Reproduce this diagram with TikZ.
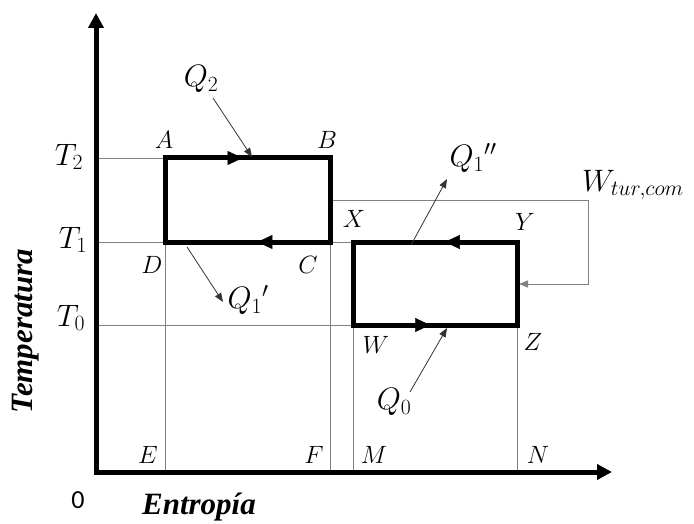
\RequirePackage{fix-cm}
\documentclass[tikz,border=0pt]{standalone}
\usepackage{fontspec}
\setmainfont{Liberation Serif}
\newfontfamily\zerofont{Carlito}
\usetikzlibrary{arrows.meta, decorations.markings}
\definecolor{guidegray}{HTML}{808080}

\begin{document}
\begin{tikzpicture}[x=1pt, y=-1pt,
    axis/.style={line width=5pt, line join=miter,
      {Triangle[length=15pt, width=15pt]}-{Triangle[length=15pt, width=15pt]}},
    cycleline/.style={line width=5pt, line join=miter},
    guide/.style={draw=guidegray, line width=0.9pt},
    heatarrow/.style={draw=black!80, line width=0.8pt, -{Triangle[length=9pt, width=7pt]}},
    flowmark/.style={postaction=decorate, decoration={markings,
      mark=at position #1 with {\arrow{Triangle[length=15pt, width=14pt]}}}},
    pt/.style={font=\fontsize{25}{29}\selectfont, inner sep=0pt},
    qlabel/.style={font=\fontsize{31}{35}\selectfont, inner sep=0pt},
    axlabel/.style={font=\fontsize{31}{35}\selectfont\bfseries\itshape, inner sep=0pt}]
  \useasboundingbox (0,0) rectangle (694,524);

  % axes
  \coordinate (O) at (96,472);
  \coordinate (ytop) at (96,13);
  \coordinate (xend) at (612,472);

  % corners of the two cycles
  \coordinate (A) at (165,158);
  \coordinate (B) at (330,158);
  \coordinate (C) at (330,242);
  \coordinate (D) at (165,242);
  \coordinate (X) at (353,242);
  \coordinate (Y) at (517,242);
  \coordinate (Z) at (517,325);
  \coordinate (W) at (353,325);

  % feet on the entropy axis and levels on the temperature axis
  \coordinate (E) at (165,472);
  \coordinate (F) at (330,472);
  \coordinate (M) at (353,472);
  \coordinate (N) at (517,472);
  \coordinate (T2) at (96,158);
  \coordinate (T1) at (96,242);
  \coordinate (T0) at (96,325);

  % thin guide lines
  \draw[guide] (T2) -- (A);
  \draw[guide] (T1) -- (X);
  \draw[guide] (T0) -- (W);
  \draw[guide] (D) -- (E);
  \draw[guide] (C) -- (F);
  \draw[guide] (W) -- (M);
  \draw[guide] (Z) -- (N);

  % work link between the cycles
  \coordinate (wstart) at (330,200);
  \coordinate (wturn) at (588,284);
  \coordinate (wend) at (519,284);
  \draw[guide, -{Triangle[length=9pt, width=7pt]}] (wstart) -| (wturn) -- (wend);

  \draw[axis] (ytop) -- (O) -- (xend);

  % cycles
  \draw[cycleline] (A) -- (B) -- (C) -- (D) -- cycle;
  \path[flowmark=0.47] (A) -- (B);
  \path[flowmark=0.44] (C) -- (D);
  \draw[cycleline] (X) -- (Y) -- (Z) -- (W) -- cycle;
  \path[flowmark=0.44] (Y) -- (X);
  \path[flowmark=0.47] (W) -- (Z);

  % point labels
  \node[pt] (lA) at (164,140) {$A$};
  \node[pt] (lB) at (327,140) {$B$};
  \node[pt] (lC) at (308,265) {$C$};
  \node[pt] (lD) at (152,265) {$D$};
  \node[pt] (lX) at (354,219) {$X$};
  \node[pt] (lY) at (525,222) {$Y$};
  \node[pt] (lZ) at (533,342) {$Z$};
  \node[pt] (lW) at (376,345) {$W$};
  \node[pt] (lE) at (148,455) {$E$};
  \node[pt] (lF) at (314,455) {$F$};
  \node[pt] (lM) at (374,455) {$M$};
  \node[pt] (lN) at (538,455) {$N$};

  \node[qlabel] (lT2) at (69,157) {$T_2$};
  \node[qlabel] (lT1) at (73,240) {$T_1$};
  \node[qlabel] (lT0) at (71,318) {$T_0$};

  % heat and work labels
  \node[qlabel] (qtwo) at (201,79) {$Q_2$};
  \node[qlabel] (qonep) at (248,300) {$Q_1{}'$};
  \node[qlabel] (qonepp) at (473,158) {$Q_1{}''$};
  \node[qlabel] (qzero) at (394,402) {$Q_0$};
  \node[qlabel] (wtc) at (633,185) {$W_{tur,com}$};

  \coordinate (q2tail) at (213,98);   \coordinate (q2tip) at (252,157);
  \coordinate (q1tail) at (187,247);  \coordinate (q1tip) at (223,302);
  \coordinate (q11tail) at (411,245); \coordinate (q11tip) at (447,179);
  \coordinate (q0tail) at (410,392);  \coordinate (q0tip) at (447,328);
  \draw[heatarrow] (q2tail) -- (q2tip);
  \draw[heatarrow] (q1tail) -- (q1tip);
  \draw[heatarrow] (q11tail) -- (q11tip);
  \draw[heatarrow] (q0tail) -- (q0tip);

  % axis names
  \node[font=\fontsize{26}{30}\zerofont, inner sep=0pt] (zero) at (78,500) {0};
  \node[axlabel] (sname) at (199,507) {Entropía};
  \node[axlabel, rotate=90] (tname) at (26,331) {Temperatura};
\end{tikzpicture}
\end{document}
